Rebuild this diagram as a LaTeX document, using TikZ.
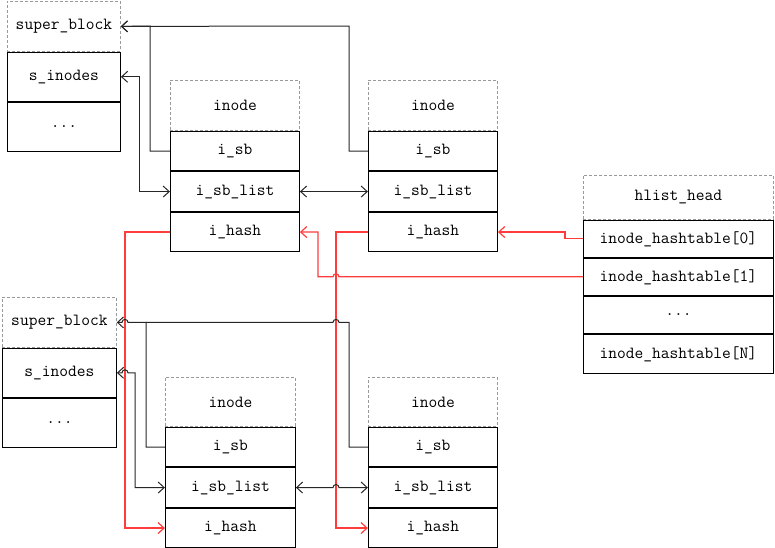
\documentclass[tikz,border=0pt]{standalone}
\usepackage{fontspec}
\usepackage{tikz}
\usetikzlibrary{arrows.meta, positioning}
\definecolor{hashred}{RGB}{255,60,60}

\begin{document}
\begin{tikzpicture}[x=1pt, y=-1pt,
    every node/.style={font=\fontsize{17}{19}\selectfont\ttfamily, inner sep=0pt},
    hdr/.style={draw=gray!80, dash pattern=on 3pt off 2pt, line width=0.8pt,
        anchor=north west},
    cell/.style={draw, line width=1pt},
    conn/.style={draw=black!85, line width=1pt,
        arrows={Straight Barb[length=6pt,width=11pt]-Straight Barb[length=6pt,width=11pt]}},
    hash/.style={draw=hashred, line width=1.2pt,
        arrows={-Straight Barb[length=6pt,width=11pt]}}]

    \useasboundingbox (0,0) rectangle (775,547);

    % super_block (top)
    \node[hdr, minimum width=113pt, minimum height=50pt] (sb1) at (7,1) {super\_block};
    \node[cell, minimum width=113pt, minimum height=49pt, below=0pt of sb1] (sb1i) {s\_inodes};
    \node[cell, minimum width=113pt, minimum height=49pt, below=0pt of sb1i] (sb1d) {...};

    % super_block (bottom)
    \node[hdr, minimum width=114pt, minimum height=50pt] (sb2) at (2,297) {super\_block};
    \node[cell, minimum width=114pt, minimum height=49pt, below=0pt of sb2] (sb2i) {s\_inodes};
    \node[cell, minimum width=114pt, minimum height=49pt, below=0pt of sb2i] (sb2d) {...};

    % inodes
    \foreach \n/\x/\y/\w/\h in {ino1/170/80/129/50, ino2/368/80/129/50,
                                ino3/165/377/130/49, ino4/368/377/129/49} {
        \node[hdr, minimum width=\w pt, minimum height=\h pt] (\n) at (\x,\y) {inode};
        \node[cell, minimum width=\w pt, minimum height=39.5pt, below=0pt of \n] (\n sb) {i\_sb};
        \node[cell, minimum width=\w pt, minimum height=39.5pt, below=0pt of \n sb] (\n list) {i\_sb\_list};
        \node[cell, minimum width=\w pt, minimum height=39.5pt, below=0pt of \n list] (\n hash) {i\_hash};
    }

    % hlist_head
    \node[hdr, minimum width=190pt, minimum height=44pt] (hl) at (583,175) {hlist\_head};
    \node[cell, minimum width=190pt, minimum height=37pt, below=0pt of hl] (hl0) {inode\_hashtable[0]};
    \node[cell, minimum width=190pt, minimum height=37pt, below=0pt of hl0] (hl1) {inode\_hashtable[1]};
    \node[cell, minimum width=190pt, minimum height=37pt, below=0pt of hl1] (hld) {...};
    \node[cell, minimum width=190pt, minimum height=39pt, below=0pt of hld] (hlN) {inode\_hashtable[N]};

    % top links
    \draw[conn, arrows={-Straight Barb[length=6pt,width=11pt]}] (ino1sb.west) -| (150,26) -- (sb1.east);
    \draw[conn, arrows={-Straight Barb[length=6pt,width=11pt]}] (ino2sb.west) -| (349,26) -- (sb1.east);
    \draw[conn] (sb1i.east) -- ++(19,0) |- (ino1list.west);
    \draw[conn] (ino1list.east) -- (ino2list.west);

    % hash links
    \draw[hash] (hl0.west) -- ++(-18,0) |- (ino2hash.east);
    \draw[hash] (hl1.west) -- (339,0 |- hl1.west) arc[start angle=0, end angle=180, radius=3pt]
        -- (318,0 |- hl1.west) |- (ino1hash.east);
    \draw[hash] (ino1hash.west) -- ++(-45,0) |- (ino3hash.west);
    \draw[hash] (ino2hash.west) -- ++(-32,0) |- (ino4hash.west);

    % bottom links
    \draw[conn, arrows={-Straight Barb[length=6pt,width=11pt]}] (ino3sb.west) -| (146,0 |- sb2.east)
        -- (128,0 |- sb2.east) arc[start angle=0, end angle=180, radius=3pt] -- (sb2.east);
    \draw[conn, arrows={-}] (ino4sb.west) -| (349,0 |- sb2.east)
        -- (339,0 |- sb2.east) arc[start angle=0, end angle=180, radius=3pt] -- (146,0 |- sb2.east);
    \draw[conn] (sb2i.east) -- (122,0 |- sb2i.east) arc[start angle=180, end angle=0, radius=3pt]
        -- (135,0 |- sb2i.east) |- (ino3list.west);
    \draw[conn] (ino3list.east) -- (333,0 |- ino3list.east) arc[start angle=180, end angle=0, radius=3pt]
        -- (ino4list.west);

\end{tikzpicture}
\end{document}
